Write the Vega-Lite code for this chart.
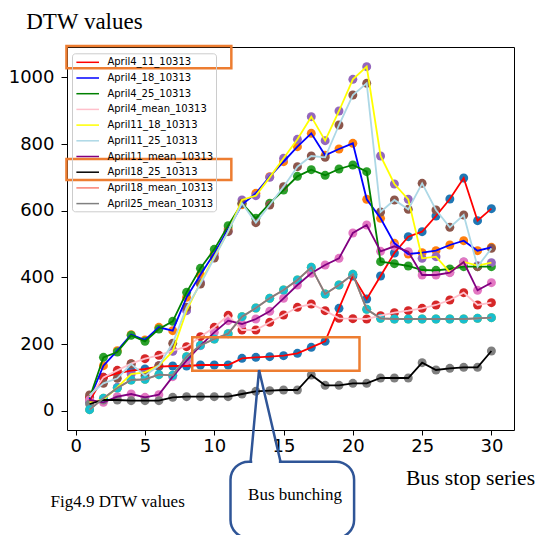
{
"$schema": "https://vega.github.io/schema/vega-lite/v6.json",
"width": 447, "height": 383,
"autosize": {"type": "none"},
"padding": {"left": 67, "top": 47, "right": 22, "bottom": 105},
"background": "white",
"config": {
  "view": {"stroke": "black", "strokeWidth": 1},
  "axis": {"grid": false, "domain": false, "labelFont": "DejaVu Sans", "labelFontSize": 18, "labelColor": "black", "tickColor": "black", "tickSize": 5, "tickWidth": 1}
},
"resolve": {"legend": {"fill": "independent", "stroke": "independent"}},
"datasets": {
"pts": [
{"s":"April18_mean_10313","x":1,"y":3},{"s":"April18_mean_10313","x":2,"y":37},{"s":"April18_mean_10313","x":3,"y":68},{"s":"April18_mean_10313","x":4,"y":92},{"s":"April18_mean_10313","x":5,"y":94},{"s":"April18_mean_10313","x":6,"y":108},{"s":"April18_mean_10313","x":7,"y":106},{"s":"April18_mean_10313","x":8,"y":162},{"s":"April18_mean_10313","x":9,"y":196},{"s":"April18_mean_10313","x":10,"y":215},{"s":"April18_mean_10313","x":11,"y":231},{"s":"April18_mean_10313","x":12,"y":282},{"s":"April18_mean_10313","x":13,"y":308},{"s":"April18_mean_10313","x":14,"y":337},{"s":"April18_mean_10313","x":15,"y":362},{"s":"April18_mean_10313","x":16,"y":392},{"s":"April18_mean_10313","x":17,"y":430},{"s":"April18_mean_10313","x":18,"y":350},{"s":"April18_mean_10313","x":19,"y":377},{"s":"April18_mean_10313","x":20,"y":409},{"s":"April18_mean_10313","x":21,"y":304},{"s":"April18_mean_10313","x":22,"y":277},{"s":"April18_mean_10313","x":23,"y":275},{"s":"April18_mean_10313","x":24,"y":275},{"s":"April18_mean_10313","x":25,"y":275},{"s":"April18_mean_10313","x":26,"y":275},{"s":"April18_mean_10313","x":27,"y":275},{"s":"April18_mean_10313","x":28,"y":275},{"s":"April18_mean_10313","x":29,"y":277},{"s":"April18_mean_10313","x":30,"y":279},
{"s":"April4_11_10313","x":1,"y":30},{"s":"April4_11_10313","x":2,"y":100},{"s":"April4_11_10313","x":3,"y":112},{"s":"April4_11_10313","x":4,"y":120},{"s":"April4_11_10313","x":5,"y":125},{"s":"April4_11_10313","x":6,"y":132},{"s":"April4_11_10313","x":7,"y":134},{"s":"April4_11_10313","x":8,"y":134},{"s":"April4_11_10313","x":9,"y":137},{"s":"April4_11_10313","x":10,"y":137},{"s":"April4_11_10313","x":11,"y":137},{"s":"April4_11_10313","x":12,"y":157},{"s":"April4_11_10313","x":13,"y":160},{"s":"April4_11_10313","x":14,"y":162},{"s":"April4_11_10313","x":15,"y":165},{"s":"April4_11_10313","x":16,"y":172},{"s":"April4_11_10313","x":17,"y":190},{"s":"April4_11_10313","x":18,"y":208},{"s":"April4_11_10313","x":19,"y":307},{"s":"April4_11_10313","x":20,"y":404},{"s":"April4_11_10313","x":21,"y":335},{"s":"April4_11_10313","x":22,"y":404},{"s":"April4_11_10313","x":23,"y":473},{"s":"April4_11_10313","x":24,"y":522},{"s":"April4_11_10313","x":25,"y":537},{"s":"April4_11_10313","x":26,"y":584},{"s":"April4_11_10313","x":27,"y":635},{"s":"April4_11_10313","x":28,"y":698},{"s":"April4_11_10313","x":29,"y":570},{"s":"April4_11_10313","x":30,"y":606},
{"s":"April4_18_10313","x":1,"y":35},{"s":"April4_18_10313","x":2,"y":135},{"s":"April4_18_10313","x":3,"y":180},{"s":"April4_18_10313","x":4,"y":228},{"s":"April4_18_10313","x":5,"y":212},{"s":"April4_18_10313","x":6,"y":250},{"s":"April4_18_10313","x":7,"y":240},{"s":"April4_18_10313","x":8,"y":340},{"s":"April4_18_10313","x":9,"y":408},{"s":"April4_18_10313","x":10,"y":472},{"s":"April4_18_10313","x":11,"y":545},{"s":"April4_18_10313","x":12,"y":618},{"s":"April4_18_10313","x":13,"y":652},{"s":"April4_18_10313","x":14,"y":702},{"s":"April4_18_10313","x":15,"y":747},{"s":"April4_18_10313","x":16,"y":792},{"s":"April4_18_10313","x":17,"y":832},{"s":"April4_18_10313","x":18,"y":766},{"s":"April4_18_10313","x":19,"y":785},{"s":"April4_18_10313","x":20,"y":802},{"s":"April4_18_10313","x":21,"y":634},{"s":"April4_18_10313","x":22,"y":577},{"s":"April4_18_10313","x":23,"y":502},{"s":"April4_18_10313","x":24,"y":470},{"s":"April4_18_10313","x":25,"y":474},{"s":"April4_18_10313","x":26,"y":480},{"s":"April4_18_10313","x":27,"y":497},{"s":"April4_18_10313","x":28,"y":510},{"s":"April4_18_10313","x":29,"y":480},{"s":"April4_18_10313","x":30,"y":490},
{"s":"April4_25_10313","x":1,"y":38},{"s":"April4_25_10313","x":2,"y":160},{"s":"April4_25_10313","x":3,"y":176},{"s":"April4_25_10313","x":4,"y":226},{"s":"April4_25_10313","x":5,"y":208},{"s":"April4_25_10313","x":6,"y":245},{"s":"April4_25_10313","x":7,"y":268},{"s":"April4_25_10313","x":8,"y":355},{"s":"April4_25_10313","x":9,"y":427},{"s":"April4_25_10313","x":10,"y":484},{"s":"April4_25_10313","x":11,"y":555},{"s":"April4_25_10313","x":12,"y":622},{"s":"April4_25_10313","x":13,"y":577},{"s":"April4_25_10313","x":14,"y":622},{"s":"April4_25_10313","x":15,"y":662},{"s":"April4_25_10313","x":16,"y":703},{"s":"April4_25_10313","x":17,"y":723},{"s":"April4_25_10313","x":18,"y":706},{"s":"April4_25_10313","x":19,"y":725},{"s":"April4_25_10313","x":20,"y":737},{"s":"April4_25_10313","x":21,"y":717},{"s":"April4_25_10313","x":22,"y":447},{"s":"April4_25_10313","x":23,"y":441},{"s":"April4_25_10313","x":24,"y":434},{"s":"April4_25_10313","x":25,"y":422},{"s":"April4_25_10313","x":26,"y":421},{"s":"April4_25_10313","x":27,"y":425},{"s":"April4_25_10313","x":28,"y":432},{"s":"April4_25_10313","x":29,"y":432},{"s":"April4_25_10313","x":30,"y":432},
{"s":"April4_mean_10313","x":1,"y":40},{"s":"April4_mean_10313","x":2,"y":100},{"s":"April4_mean_10313","x":3,"y":121},{"s":"April4_mean_10313","x":4,"y":141},{"s":"April4_mean_10313","x":5,"y":156},{"s":"April4_mean_10313","x":6,"y":166},{"s":"April4_mean_10313","x":7,"y":180},{"s":"April4_mean_10313","x":8,"y":192},{"s":"April4_mean_10313","x":9,"y":222},{"s":"April4_mean_10313","x":10,"y":250},{"s":"April4_mean_10313","x":11,"y":286},{"s":"April4_mean_10313","x":12,"y":242},{"s":"April4_mean_10313","x":13,"y":242},{"s":"April4_mean_10313","x":14,"y":265},{"s":"April4_mean_10313","x":15,"y":287},{"s":"April4_mean_10313","x":16,"y":310},{"s":"April4_mean_10313","x":17,"y":320},{"s":"April4_mean_10313","x":18,"y":300},{"s":"April4_mean_10313","x":19,"y":277},{"s":"April4_mean_10313","x":20,"y":276},{"s":"April4_mean_10313","x":21,"y":275},{"s":"April4_mean_10313","x":22,"y":285},{"s":"April4_mean_10313","x":23,"y":294},{"s":"April4_mean_10313","x":24,"y":300},{"s":"April4_mean_10313","x":25,"y":307},{"s":"April4_mean_10313","x":26,"y":317},{"s":"April4_mean_10313","x":27,"y":332},{"s":"April4_mean_10313","x":28,"y":354},{"s":"April4_mean_10313","x":29,"y":317},{"s":"April4_mean_10313","x":30,"y":324},
{"s":"April11_18_10313","x":1,"y":25},{"s":"April11_18_10313","x":2,"y":33},{"s":"April11_18_10313","x":3,"y":70},{"s":"April11_18_10313","x":4,"y":110},{"s":"April11_18_10313","x":5,"y":115},{"s":"April11_18_10313","x":6,"y":135},{"s":"April11_18_10313","x":7,"y":178},{"s":"April11_18_10313","x":8,"y":300},{"s":"April11_18_10313","x":9,"y":385},{"s":"April11_18_10313","x":10,"y":462},{"s":"April11_18_10313","x":11,"y":537},{"s":"April11_18_10313","x":12,"y":632},{"s":"April11_18_10313","x":13,"y":645},{"s":"April11_18_10313","x":14,"y":700},{"s":"April11_18_10313","x":15,"y":757},{"s":"April11_18_10313","x":16,"y":814},{"s":"April11_18_10313","x":17,"y":882},{"s":"April11_18_10313","x":18,"y":810},{"s":"April11_18_10313","x":19,"y":899},{"s":"April11_18_10313","x":20,"y":994},{"s":"April11_18_10313","x":21,"y":1032},{"s":"April11_18_10313","x":22,"y":764},{"s":"April11_18_10313","x":23,"y":680},{"s":"April11_18_10313","x":24,"y":634},{"s":"April11_18_10313","x":25,"y":457},{"s":"April11_18_10313","x":26,"y":462},{"s":"April11_18_10313","x":27,"y":415},{"s":"April11_18_10313","x":28,"y":446},{"s":"April11_18_10313","x":29,"y":435},{"s":"April11_18_10313","x":30,"y":444},
{"s":"April11_25_10313","x":1,"y":47},{"s":"April11_25_10313","x":2,"y":82},{"s":"April11_25_10313","x":3,"y":97},{"s":"April11_25_10313","x":4,"y":140},{"s":"April11_25_10313","x":5,"y":105},{"s":"April11_25_10313","x":6,"y":135},{"s":"April11_25_10313","x":7,"y":202},{"s":"April11_25_10313","x":8,"y":310},{"s":"April11_25_10313","x":9,"y":380},{"s":"April11_25_10313","x":10,"y":458},{"s":"April11_25_10313","x":11,"y":538},{"s":"April11_25_10313","x":12,"y":622},{"s":"April11_25_10313","x":13,"y":564},{"s":"April11_25_10313","x":14,"y":617},{"s":"April11_25_10313","x":15,"y":672},{"s":"April11_25_10313","x":16,"y":732},{"s":"April11_25_10313","x":17,"y":764},{"s":"April11_25_10313","x":18,"y":760},{"s":"April11_25_10313","x":19,"y":857},{"s":"April11_25_10313","x":20,"y":947},{"s":"April11_25_10313","x":21,"y":982},{"s":"April11_25_10313","x":22,"y":596},{"s":"April11_25_10313","x":23,"y":632},{"s":"April11_25_10313","x":24,"y":604},{"s":"April11_25_10313","x":25,"y":682},{"s":"April11_25_10313","x":26,"y":602},{"s":"April11_25_10313","x":27,"y":550},{"s":"April11_25_10313","x":28,"y":587},{"s":"April11_25_10313","x":29,"y":432},{"s":"April11_25_10313","x":30,"y":487},
{"s":"April11_mean_10313","x":1,"y":32},{"s":"April11_mean_10313","x":2,"y":25},{"s":"April11_mean_10313","x":3,"y":42},{"s":"April11_mean_10313","x":4,"y":50},{"s":"April11_mean_10313","x":5,"y":40},{"s":"April11_mean_10313","x":6,"y":48},{"s":"April11_mean_10313","x":7,"y":102},{"s":"April11_mean_10313","x":8,"y":150},{"s":"April11_mean_10313","x":9,"y":195},{"s":"April11_mean_10313","x":10,"y":235},{"s":"April11_mean_10313","x":11,"y":270},{"s":"April11_mean_10313","x":12,"y":260},{"s":"April11_mean_10313","x":13,"y":275},{"s":"April11_mean_10313","x":14,"y":298},{"s":"April11_mean_10313","x":15,"y":337},{"s":"April11_mean_10313","x":16,"y":377},{"s":"April11_mean_10313","x":17,"y":412},{"s":"April11_mean_10313","x":18,"y":437},{"s":"April11_mean_10313","x":19,"y":457},{"s":"April11_mean_10313","x":20,"y":533},{"s":"April11_mean_10313","x":21,"y":557},{"s":"April11_mean_10313","x":22,"y":478},{"s":"April11_mean_10313","x":23,"y":493},{"s":"April11_mean_10313","x":24,"y":477},{"s":"April11_mean_10313","x":25,"y":407},{"s":"April11_mean_10313","x":26,"y":407},{"s":"April11_mean_10313","x":27,"y":414},{"s":"April11_mean_10313","x":28,"y":446},{"s":"April11_mean_10313","x":29,"y":361},{"s":"April11_mean_10313","x":30,"y":384},
{"s":"April18_25_10313","x":1,"y":20},{"s":"April18_25_10313","x":2,"y":32},{"s":"April18_25_10313","x":3,"y":32},{"s":"April18_25_10313","x":4,"y":30},{"s":"April18_25_10313","x":5,"y":30},{"s":"April18_25_10313","x":6,"y":30},{"s":"April18_25_10313","x":7,"y":40},{"s":"April18_25_10313","x":8,"y":42},{"s":"April18_25_10313","x":9,"y":42},{"s":"April18_25_10313","x":10,"y":42},{"s":"April18_25_10313","x":11,"y":42},{"s":"April18_25_10313","x":12,"y":50},{"s":"April18_25_10313","x":13,"y":58},{"s":"April18_25_10313","x":14,"y":60},{"s":"April18_25_10313","x":15,"y":62},{"s":"April18_25_10313","x":16,"y":62},{"s":"April18_25_10313","x":17,"y":107},{"s":"April18_25_10313","x":18,"y":76},{"s":"April18_25_10313","x":19,"y":76},{"s":"April18_25_10313","x":20,"y":82},{"s":"April18_25_10313","x":21,"y":82},{"s":"April18_25_10313","x":22,"y":98},{"s":"April18_25_10313","x":23,"y":98},{"s":"April18_25_10313","x":24,"y":98},{"s":"April18_25_10313","x":25,"y":144},{"s":"April18_25_10313","x":26,"y":122},{"s":"April18_25_10313","x":27,"y":127},{"s":"April18_25_10313","x":28,"y":130},{"s":"April18_25_10313","x":29,"y":130},{"s":"April18_25_10313","x":30,"y":179},
{"s":"April25_mean_10313","x":1,"y":3},{"s":"April25_mean_10313","x":2,"y":37},{"s":"April25_mean_10313","x":3,"y":68},{"s":"April25_mean_10313","x":4,"y":92},{"s":"April25_mean_10313","x":5,"y":94},{"s":"April25_mean_10313","x":6,"y":108},{"s":"April25_mean_10313","x":7,"y":106},{"s":"April25_mean_10313","x":8,"y":162},{"s":"April25_mean_10313","x":9,"y":196},{"s":"April25_mean_10313","x":10,"y":215},{"s":"April25_mean_10313","x":11,"y":231},{"s":"April25_mean_10313","x":12,"y":282},{"s":"April25_mean_10313","x":13,"y":308},{"s":"April25_mean_10313","x":14,"y":337},{"s":"April25_mean_10313","x":15,"y":362},{"s":"April25_mean_10313","x":16,"y":392},{"s":"April25_mean_10313","x":17,"y":430},{"s":"April25_mean_10313","x":18,"y":350},{"s":"April25_mean_10313","x":19,"y":377},{"s":"April25_mean_10313","x":20,"y":409},{"s":"April25_mean_10313","x":21,"y":304},{"s":"April25_mean_10313","x":22,"y":277},{"s":"April25_mean_10313","x":23,"y":275},{"s":"April25_mean_10313","x":24,"y":275},{"s":"April25_mean_10313","x":25,"y":275},{"s":"April25_mean_10313","x":26,"y":275},{"s":"April25_mean_10313","x":27,"y":275},{"s":"April25_mean_10313","x":28,"y":275},{"s":"April25_mean_10313","x":29,"y":277},{"s":"April25_mean_10313","x":30,"y":279}
],
"boxes": [
{"x":-0.67,"x2":11.23,"y":1094,"y2":1027},
{"x":-0.67,"x2":11.23,"y":755,"y2":692},
{"x":8.41,"x2":20.48,"y":220,"y2":120}
],
"callout": [{"x":11.17,"x2":20.09,"y":-153,"y2":-382}],
"gap": [{"x":12.74,"x2":14.66,"y":-153}],
"pointer": [
{"x":12.62,"y":-153,"o":0},{"x":13.23,"y":122,"o":1},{"x":14.78,"y":-153,"o":2}
],
"fig": [{"x":-1.82,"y":-289,"t":"Fig4.9 DTW values"}],
"bunch": [{"x":15.83,"y":-267,"t":"Bus bunching"}]
},
"layer": [
{
 "data": {"name": "pts"},
 "mark": {"type": "circle", "size": 80, "opacity": 1},
 "encoding": {
  "x": {"field": "x", "type": "quantitative", "scale": {"domain": [-0.63, 31.63], "nice": false, "zero": false},
        "axis": {"values": [0,5,10,15,20,25,30], "labelPadding": 2, "title": "Bus stop series", "titleFont": "Liberation Serif", "titleFontSize": 21.5, "titleFontWeight": "normal", "titleColor": "black", "titleX": 338.5, "titleY": 54, "titleAlign": "left", "titleBaseline": "alphabetic"}},
  "y": {"field": "y", "type": "quantitative", "scale": {"domain": [-58, 1091], "nice": false, "zero": false},
        "axis": {"values": [0,200,400,600,800,1000], "format": "d", "labelPadding": 7, "tickSize": 6, "title": "DTW values", "titleAngle": 0, "titleFont": "Liberation Serif", "titleFontSize": 23, "titleFontWeight": "normal", "titleColor": "black", "titleX": -41.3, "titleY": -18.7, "titleAlign": "left", "titleBaseline": "alphabetic"}},
  "fill": {"field": "s", "type": "nominal", "legend": null,
           "scale": {"domain": ["April4_11_10313","April4_18_10313","April4_25_10313","April4_mean_10313","April11_18_10313","April11_25_10313","April11_mean_10313","April18_25_10313","April18_mean_10313","April25_mean_10313"],
                     "range": ["#1f77b4","#ff7f0e","#2ca02c","#d62728","#9467bd","#8c564b","#e377c2","#7f7f7f","#bcbd22","#17becf"]}}
 }
},
{
 "data": {"name": "pts"},
 "mark": {"type": "line", "strokeWidth": 1.8},
 "encoding": {
  "x": {"field": "x", "type": "quantitative"},
  "y": {"field": "y", "type": "quantitative"},
  "stroke": {"field": "s", "type": "nominal",
           "scale": {"domain": ["April4_11_10313","April4_18_10313","April4_25_10313","April4_mean_10313","April11_18_10313","April11_25_10313","April11_mean_10313","April18_25_10313","April18_mean_10313","April25_mean_10313"],
                     "range": ["#ff0000","#0000ff","#008000","#ffc0cb","#ffff00","#add8e6","#800080","#000000","#fa8072","#808080"]},
           "legend": {"orient": "none", "legendX": 5, "legendY": 6.3, "title": null, "symbolType": "M-0.77,0H3", "symbolSize": 144, "symbolStrokeWidth": 1.5, "labelFont": "DejaVu Sans", "labelFontSize": 10, "labelColor": "black", "labelOffset": 19.4, "rowPadding": 3.7, "padding": 2, "strokeColor": "#cccccc", "cornerRadius": 3}}
 }
},
{
 "data": {"name": "boxes"},
 "mark": {"type": "rect", "fill": "white", "fillOpacity": 0, "stroke": "#ED7D31", "strokeWidth": 2.5, "clip": false},
 "encoding": {
  "x": {"field": "x", "type": "quantitative"}, "x2": {"field": "x2"},
  "y": {"field": "y", "type": "quantitative"}, "y2": {"field": "y2"}
 }
},
{
 "data": {"name": "callout"},
 "mark": {"type": "rect", "fill": "white", "stroke": "#2F5597", "strokeWidth": 2.5, "cornerRadius": 18, "clip": false},
 "encoding": {
  "x": {"field": "x", "type": "quantitative"}, "x2": {"field": "x2"},
  "y": {"field": "y", "type": "quantitative"}, "y2": {"field": "y2"}
 }
},
{
 "data": {"name": "gap"},
 "mark": {"type": "rule", "stroke": "white", "strokeWidth": 4, "clip": false},
 "encoding": {
  "x": {"field": "x", "type": "quantitative"}, "x2": {"field": "x2"},
  "y": {"field": "y", "type": "quantitative"}
 }
},
{
 "data": {"name": "pointer"},
 "mark": {"type": "line", "stroke": "#2F5597", "strokeWidth": 2.5, "clip": false},
 "encoding": {
  "x": {"field": "x", "type": "quantitative"},
  "y": {"field": "y", "type": "quantitative"},
  "order": {"field": "o", "type": "quantitative"}
 }
},
{
 "data": {"name": "fig"},
 "mark": {"type": "text", "font": "Liberation Serif", "fontSize": 17, "color": "black", "align": "left", "baseline": "alphabetic", "clip": false},
 "encoding": {
  "x": {"field": "x", "type": "quantitative"},
  "y": {"field": "y", "type": "quantitative"},
  "text": {"field": "t"}
 }
},
{
 "data": {"name": "bunch"},
 "mark": {"type": "text", "font": "Liberation Serif", "fontSize": 17, "color": "black", "align": "center", "baseline": "alphabetic", "clip": false},
 "encoding": {
  "x": {"field": "x", "type": "quantitative"},
  "y": {"field": "y", "type": "quantitative"},
  "text": {"field": "t"}
 }
}
]
}
